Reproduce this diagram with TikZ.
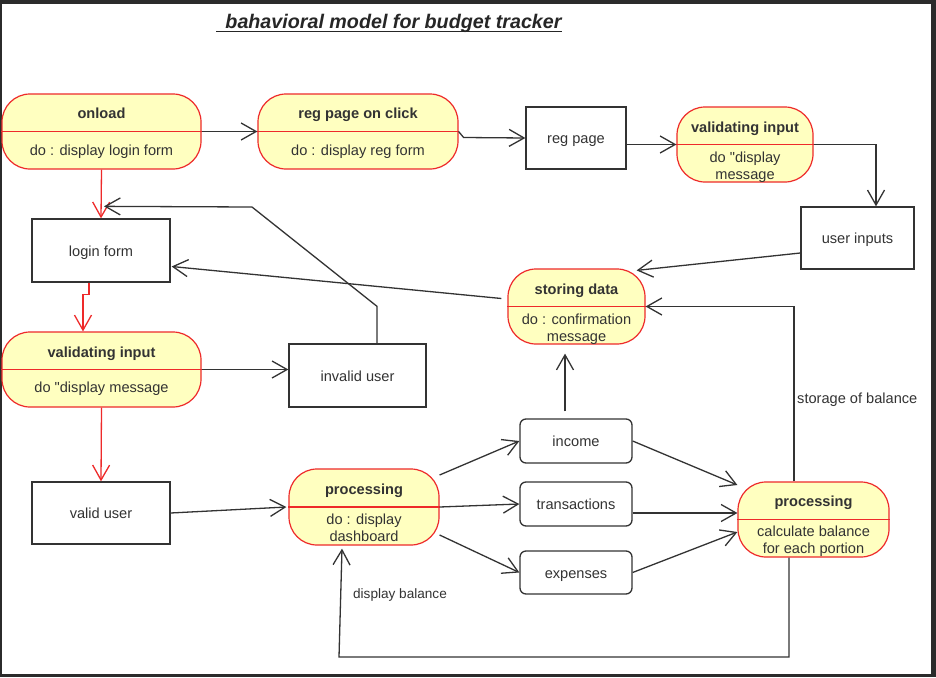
\documentclass[tikz,border=0pt]{standalone}
\usepackage{fontspec}
\setmainfont{Liberation Sans}[Ligatures=TeXOff]
\usetikzlibrary{arrows.meta,calc}
\definecolor{ink}{HTML}{333333}
\definecolor{stroke}{HTML}{EE2A2A}
\definecolor{statefill}{HTML}{FFFFC0}
\definecolor{framecol}{HTML}{2B2B2B}
\begin{document}
\begin{tikzpicture}[x=1pt,y=-1pt,
  every node/.style={font=\fontsize{14.6}{17}\selectfont, text=ink},
  statebox/.style={draw=stroke, fill=statefill, rounded corners=28pt, line width=1.2pt, inner sep=0pt},
  plainbox/.style={draw=ink, fill=white, line width=1.3pt, inner sep=0pt, text height=11.5pt, text depth=0pt},
  softbox/.style={plainbox, rounded corners=6pt},
  divider/.style={draw=stroke, line width=1.2pt},
  stext/.style={inner sep=0pt, text height=11.5pt, text depth=0pt},
  ttext/.style={stext, font=\fontsize{14.6}{17}\selectfont\bfseries},
  ed/.style={draw=ink, line width=1.3pt, -{Straight Barb[length=15pt,width=17pt]}},
  rededge/.style={draw=stroke, line width=1.3pt, -{Straight Barb[length=15pt,width=17pt]}},
  lbl/.style={inner sep=0pt}
]
\useasboundingbox (0,0) rectangle (936,677);
\fill[framecol] (0,0) rectangle (936,677);
\fill[white] (2,4) rectangle (931,674);

% title
\node[inner sep=0pt, anchor=base, font=\fontsize{19.7}{22}\selectfont\bfseries\itshape, text=black!85] (title) at (393.5,29) {bahavioral model for budget tracker};
\draw[black!85, line width=1.4pt] ([xshift=-9pt,yshift=-2.5pt]title.base west) -- ([yshift=-2.5pt]title.base east);

% state boxes
\node[statebox, minimum width=199pt, minimum height=75pt] (onload) at (101.5,131.5) {};
\node[statebox, minimum width=200pt, minimum height=75pt] (regclick) at (358,131.5) {};
\node[statebox, minimum width=136pt, minimum height=75pt] (valTR) at (745,144.5) {};
\node[statebox, minimum width=137pt, minimum height=75pt] (storing) at (576.5,306.5) {};
\node[statebox, minimum width=199pt, minimum height=75pt] (valL) at (101.5,369.5) {};
\node[statebox, minimum width=150pt, minimum height=76pt] (procM) at (364,507) {};
\node[statebox, minimum width=151pt, minimum height=75pt] (procR) at (813.5,519.5) {};
\foreach \n in {onload,regclick,valTR,storing,valL,procM,procR}
  \draw[divider] (\n.west) -- (\n.east);

% state texts
\node[ttext] (onloadA) at (101.5,113) {onload};
\node[stext] (onloadB) at (101.5,150) {do : display login form};
\node[ttext] (regclickA) at (358,113) {reg page on click};
\node[stext] (regclickB) at (358,150) {do : display reg form};
\node[ttext] (valTRA) at (745,127) {validating input};
\node[stext] (valTRB) at (745,157) {do "display};
\node[stext] (valTRC) at (745,174) {message};
\node[ttext] (storingA) at (576.5,289) {storing data};
\node[stext] (storingB) at (576.5,319) {do : confirmation};
\node[stext] (storingC) at (576.5,336) {message};
\node[ttext] (valLA) at (101.5,352) {validating input};
\node[stext] (valLB) at (101.5,387) {do "display message};
\node[ttext] (procMA) at (364,489) {processing};
\node[stext] (procMB) at (364,519) {do : display};
\node[stext] (procMC) at (364,536) {dashboard};
\node[ttext] (procRA) at (813.5,501) {processing};
\node[stext] (procRB) at (813.5,531) {calculate balance};
\node[stext] (procRC) at (813.5,548) {for each portion};

% plain boxes
\node[plainbox, minimum width=100pt, minimum height=62pt] (regpage) at (576,138) {reg page};
\node[plainbox, minimum width=113pt, minimum height=62pt] (userin) at (857.5,238) {user inputs};
\node[plainbox, minimum width=138pt, minimum height=63pt] (login) at (101,250.5) {login form};
\node[plainbox, minimum width=137pt, minimum height=63pt] (invalid) at (357.5,375.5) {invalid user};
\node[plainbox, minimum width=138pt, minimum height=62pt] (valid) at (101,513) {valid user};
\node[softbox, minimum width=112pt, minimum height=44pt] (income) at (576,441) {income};
\node[softbox, minimum width=112pt, minimum height=44pt] (trans) at (576,504) {transactions};
\node[softbox, minimum width=112pt, minimum height=43pt] (expenses) at (576,572.5) {expenses};

% connectors
\draw[ed] (onload.east) -- (regclick.west);
\draw[ed] (regclick.east) -- ++(5,6) -- (regpage.west);
\draw[ed] (regpage.east |- valTR.west) -- (valTR.west);
\draw[ed] (valTR.east) -| ($(userin.north)+(18.5,0)$);
\draw[ed] ($(userin.west)+(0,15)$) -- ($(storing.north east)+(-9,2)$);
\draw[ed] ($(storing.west)+(-6,-8)$) -- ($(login.east)+(1,16)$);
\draw[rededge] (onload.south) -- (login.north);
\draw[rededge] ($(login.south)+(-12,0)$) -- ++(0,12) -- ++(-6,0) -- ($(valL.north)+(-18.5,0)$);
\draw[ed] (valL.east) -- (invalid.west |- valL.east);
\coordinate (bendA) at (252,207);
\draw[ed] ($(invalid.north)+(19.5,0)$) -- ++(0,-37) -- (bendA) -- ($(login.north)+(3,-12)$);
\draw[rededge] (valL.south) -- (valid.north);
\draw[ed] (valid.east) -- ($(procM.west)+(-2,0)$);
\draw[ed] ($(procM.east)+(0,-32)$) -- (income.west);
\draw[ed] (procM.east) -- (trans.west);
\draw[ed] ($(procM.east)+(0,28)$) -- (expenses.west);
\draw[ed] (income.east) -- ($(procR.west)+(0,-34.5)$);
\draw[ed] ($(trans.east)+(0,9)$) -- ($(procR.west)+(0,-6.5)$);
\draw[ed] (expenses.east) -- ($(procR.west)+(0,12.5)$);
\draw[ed] ($(income.north)+(-11,-7)$) -- ($(storing.south)+(-11.5,9)$);
\draw[ed] ($(procR.north)+(-19.5,0)$) |- (storing.east);
\node[lbl, anchor=west] (storlbl) at (797,400) {storage of balance};
\coordinate (bendB) at (789,657);
\coordinate (bendC) at (339,657);
\draw[ed] ($(procR.south)+(-24.5,0)$) -- (bendB) -- (bendC) -- ($(procM.south)+(-22,3)$);
\node[lbl, font=\fontsize{13.6}{16}\selectfont] (displbl) at (400,595) {display balance};
\end{tikzpicture}
\end{document}
